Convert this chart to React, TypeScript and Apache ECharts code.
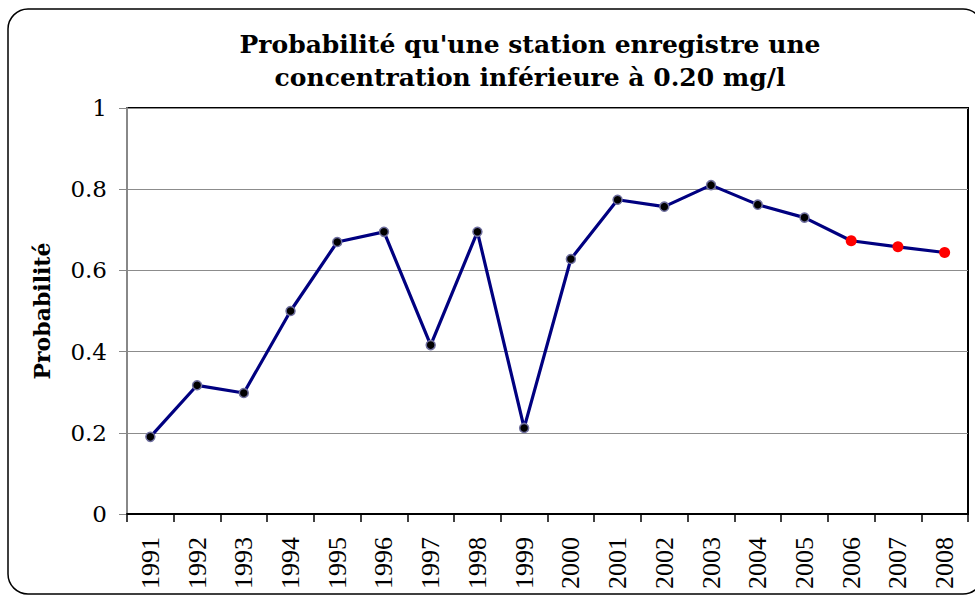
import React, { useEffect, useRef } from "react";
import * as echarts from "echarts";

const years = ["1991","1992","1993","1994","1995","1996","1997","1998","1999","2000","2001","2002","2003","2004","2005","2006","2007","2008"];
const probabilities = [0.19,0.317,0.298,0.5,0.67,0.695,0.416,0.695,0.212,0.628,0.774,0.757,0.81,0.762,0.73,0.673,0.658,0.644];
const highlightedYears = ["2006","2007","2008"];
const titleLines = ["Probabilité qu'une station enregistre une", "concentration inférieure à 0.20 mg/l"];
const yAxisName = "Probabilité";

const SERIF = "DejaVu Serif";
const SERIF2 = "Liberation Serif";

export default function App() {
  const ref = useRef<HTMLDivElement>(null);
  useEffect(() => {
    if (!ref.current) return;
    const chart = echarts.init(ref.current, null, { renderer: "svg" });
    const data = probabilities.map((v, i) => {
      const hi = highlightedYears.includes(years[i]);
      return hi
        ? { value: v, symbolSize: 11, itemStyle: { color: "#ff0000", borderColor: "#ff0000", borderWidth: 0 } }
        : { value: v };
    });
    chart.setOption({
      animation: false,
      backgroundColor: "#ffffff",
      textStyle: { fontFamily: SERIF2 },
      graphic: [
        {
          type: "rect",
          shape: { x: 8, y: 9, width: 975, height: 585, r: 20 },
          style: { fill: "none", stroke: "#000", lineWidth: 1.5 },
          silent: true,
        },
        {
          type: "text",
          x: 530,
          y: 32,
          style: {
            text: titleLines[0],
            font: `bold 25px ${SERIF}`,
            fill: "#000",
            align: "center",
            verticalAlign: "top",
          },
        },
        {
          type: "text",
          x: 530,
          y: 65,
          style: {
            text: titleLines[1],
            font: `bold 25px ${SERIF}`,
            fill: "#000",
            align: "center",
            verticalAlign: "top",
          },
        },
      ],
      grid: {
        left: 127,
        top: 108,
        right: 7,
        bottom: 83,
        show: true,
        borderColor: "#000",
        borderWidth: 2,
        backgroundColor: "transparent",
      },
      xAxis: {
        type: "category",
        data: years,
        boundaryGap: true,
        axisLine: { show: true, lineStyle: { color: "#000", width: 2 } },
        axisTick: { show: true, length: 8, lineStyle: { color: "#000", width: 1.5 } },
        axisLabel: {
          rotate: 90,
          margin: 23,
          fontFamily: SERIF2,
          fontSize: 26,
          color: "#000",
          interval: 0,
        },
        splitLine: { show: false },
      },
      yAxis: {
        type: "value",
        min: 0,
        max: 1,
        interval: 0.2,
        name: yAxisName,
        nameLocation: "middle",
        nameRotate: 90,
        nameGap: 74,
        nameTextStyle: { fontFamily: SERIF, fontSize: 22, fontWeight: "bold", color: "#000" },
        axisLine: { show: true, lineStyle: { color: "#888", width: 2 } },
        axisTick: { show: true, length: 8, lineStyle: { color: "#888", width: 1 } },
        axisLabel: { margin: 20, fontFamily: SERIF, fontSize: 23, color: "#000" },
        splitLine: { show: true, lineStyle: { color: "#8c8c8c", width: 1 } },
      },
      series: [
        {
          type: "line",
          data,
          symbol: "circle",
          symbolSize: 9,
          lineStyle: { color: "#000080", width: 3.2 },
          itemStyle: { color: "#000000", borderColor: "#6f6f9f", borderWidth: 1.5 },
          z: 5,
        },
      ],
    });
    return () => chart.dispose();
  }, []);
  return (
    <div
      ref={ref}
      style={{ position: "fixed", left: 0, top: 0, width: 975, height: 597 }}
    />
  );
}
